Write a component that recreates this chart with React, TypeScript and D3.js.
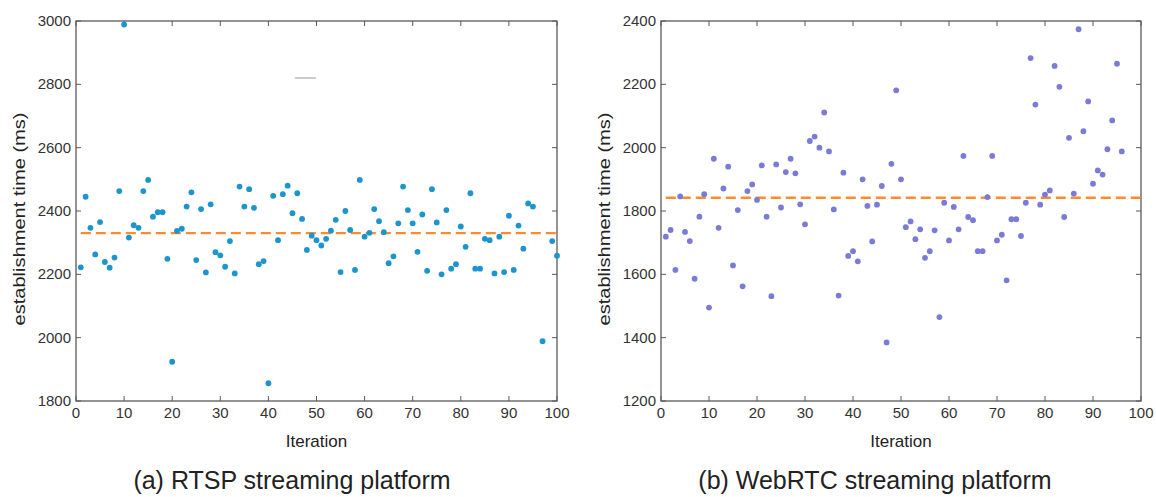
import React from "react";
import * as d3 from "d3";

const rtspIter = [
  1, 2, 3, 4, 5, 6, 7, 8, 9, 10, 11, 12, 13, 14, 15, 16, 17, 18, 19, 20,
  21, 22, 23, 24, 25, 26, 27, 28, 29, 30, 31, 32, 33, 34, 35, 36, 37, 38, 39, 40,
  41, 42, 43, 44, 45, 46, 47, 48, 49, 50, 51, 52, 53, 54, 55, 56, 57, 58, 59, 60,
  61, 62, 63, 64, 65, 66, 67, 68, 69, 70, 71, 72, 73, 74, 75, 76, 77, 78, 79, 80,
  81, 82, 83, 84, 85, 86, 87, 88, 89, 90, 91, 92, 93, 94, 95, 97, 99, 100,
];
const rtspTime = [
  2222, 2445, 2347, 2263, 2365, 2239, 2221, 2253, 2463, 2989, 2316, 2355, 2347, 2463, 2498, 2382, 2396, 2396, 2249, 1924,
  2337, 2344, 2414, 2459, 2245, 2406, 2206, 2421, 2270, 2260, 2224, 2305, 2203, 2477, 2414, 2469, 2410, 2232, 2242, 1856,
  2448, 2308, 2453, 2480, 2393, 2456, 2375, 2277, 2322, 2308, 2291, 2312, 2338, 2372, 2207, 2400, 2340, 2214, 2498, 2319,
  2331, 2406, 2368, 2333, 2235, 2257, 2361, 2477, 2403, 2361, 2271, 2389, 2211, 2469, 2364, 2200, 2403, 2218, 2232, 2351,
  2287, 2456, 2218, 2218, 2312, 2308, 2203, 2319, 2207, 2385, 2214, 2354, 2281, 2424, 2414, 1989, 2305, 2259,
];
const rtspMean = 2330;

const webrtcIter = [
  1, 2, 3, 4, 5, 6, 7, 8, 9, 10, 11, 12, 13, 14, 15, 16, 17, 18, 19, 20,
  21, 22, 23, 24, 25, 26, 27, 28, 29, 30, 31, 32, 33, 34, 35, 36, 37, 38, 39, 40,
  41, 42, 43, 44, 45, 46, 47, 48, 49, 50, 51, 52, 53, 54, 55, 56, 57, 58, 59, 60,
  61, 62, 63, 64, 65, 66, 67, 68, 69, 70, 71, 72, 73, 74, 75, 76, 77, 78, 79, 80,
  81, 82, 83, 84, 85, 86, 87, 88, 89, 90, 91, 92, 93, 94, 95, 96,
];
const webrtcTime = [
  1719, 1740, 1614, 1846, 1734, 1705, 1586, 1782, 1853, 1495, 1965, 1747, 1871, 1940, 1628, 1803, 1562, 1863, 1884, 1835,
  1944, 1782, 1531, 1947, 1811, 1923, 1965, 1919, 1821, 1758, 2021, 2035, 2000, 2111, 1988, 1805, 1533, 1921, 1658, 1673,
  1641, 1900, 1816, 1704, 1820, 1879, 1385, 1949, 2181, 1900, 1749, 1767, 1711, 1742, 1652, 1673, 1739, 1465, 1826, 1707,
  1813, 1742, 1974, 1781, 1771, 1673, 1673, 1844, 1974, 1707, 1725, 1581, 1774, 1774, 1721, 1826, 2283, 2136, 1820, 1852,
  1865, 2258, 2192, 1781, 2031, 1855, 2374, 2052, 2146, 1886, 1928, 1915, 1995, 2086, 2265, 1988,
];
const webrtcMean = 1842;

const xTicks = [0, 10, 20, 30, 40, 50, 60, 70, 80, 90, 100];
const rtspYTicks = [1800, 2000, 2200, 2400, 2600, 2800, 3000];
const webrtcYTicks = [1200, 1400, 1600, 1800, 2000, 2200, 2400];

const xLabel = "Iteration";
const yLabel = "establishment time (ms)";
const rtspTitle = "(a) RTSP streaming platform";
const webrtcTitle = "(b) WebRTC streaming platform";

const FONT = "'Liberation Sans', Arial, Helvetica, sans-serif";

type PanelProps = {
  x0: number;
  x1: number;
  yDomain: [number, number];
  yTicks: number[];
  iters: number[];
  values: number[];
  mean: number;
  color: string;
  title: string;
  titleX: number;
  yLabelX: number;
  stray?: boolean;
};

function Panel(p: PanelProps) {
  const top = 21;
  const bottom = 401;
  const xs = d3.scaleLinear().domain([0, 100]).range([p.x0, p.x1]);
  const ys = d3.scaleLinear().domain(p.yDomain).range([bottom, top]);
  const axisColor = "#5a5a5a";
  const tickLen = 5;
  const cx = (p.x0 + p.x1) / 2;
  const meanLine = d3.line<number>()
    .x((d) => xs(d))
    .y(() => ys(p.mean));
  return (
    <g>
      <rect x={p.x0} y={top} width={p.x1 - p.x0} height={bottom - top} fill="none" stroke={axisColor} strokeWidth={1.3} />
      {xTicks.map((t) => (
        <g key={"x" + t}>
          <line x1={xs(t)} x2={xs(t)} y1={bottom} y2={bottom - tickLen} stroke={axisColor} strokeWidth={1} />
          <line x1={xs(t)} x2={xs(t)} y1={top} y2={top + tickLen} stroke={axisColor} strokeWidth={1} />
          <text x={xs(t)} y={bottom + 17} textAnchor="middle" fontSize={15} fill="#333" fontFamily={FONT}>{t}</text>
        </g>
      ))}
      {p.yTicks.map((t) => (
        <g key={"y" + t}>
          <line x1={p.x0} x2={p.x0 + tickLen} y1={ys(t)} y2={ys(t)} stroke={axisColor} strokeWidth={1} />
          <line x1={p.x1} x2={p.x1 - tickLen} y1={ys(t)} y2={ys(t)} stroke={axisColor} strokeWidth={1} />
          <text x={p.x0 - 5} y={ys(t) + 5} textAnchor="end" fontSize={15} fill="#333" fontFamily={FONT}>{t}</text>
        </g>
      ))}
      <path d={meanLine([1, 100]) || ""} fill="none" stroke="#ff8b2c" strokeWidth={2.4} strokeDasharray="10,5" />
      {p.iters.map((it, i) => (
        <circle key={"p" + i} cx={xs(it)} cy={ys(p.values[i])} r={2.9} fill={p.color} />
      ))}
      {p.stray && (
        <line x1={xs(45.5)} x2={xs(49.9)} y1={78} y2={78} stroke="#999" strokeWidth={1} />
      )}
      <text x={cx} y={447} textAnchor="middle" fontSize={17} fill="#222" fontFamily={FONT}>{xLabel}</text>
      <text
        transform={`translate(${p.yLabelX},${(top + bottom) / 2 + 8}) rotate(-90)`}
        textAnchor="middle"
        fontSize={17}
        fill="#222"
        fontFamily={FONT}
        textLength={213}
        lengthAdjust="spacingAndGlyphs"
      >
        {yLabel}
      </text>
      <text x={p.titleX} y={489} textAnchor="middle" fontSize={25} fill="#222" fontFamily={FONT}>{p.title}</text>
    </g>
  );
}

export default function App() {
  return (
    <div style={{ position: "absolute", left: 0, top: 0 }}>
      <svg width={1156} height={497} style={{ display: "block", background: "#fff" }}>
        <Panel
          x0={76}
          x1={557}
          yDomain={[1800, 3000]}
          yTicks={rtspYTicks}
          iters={rtspIter}
          values={rtspTime}
          mean={rtspMean}
          color="#1c95cc"
          title={rtspTitle}
          titleX={292}
          yLabelX={25}
          stray
        />
        <Panel
          x0={661}
          x1={1141}
          yDomain={[1200, 2400]}
          yTicks={webrtcYTicks}
          iters={webrtcIter}
          values={webrtcTime}
          mean={webrtcMean}
          color="#7b7bd5"
          title={webrtcTitle}
          titleX={875}
          yLabelX={610}
        />
      </svg>
    </div>
  );
}
